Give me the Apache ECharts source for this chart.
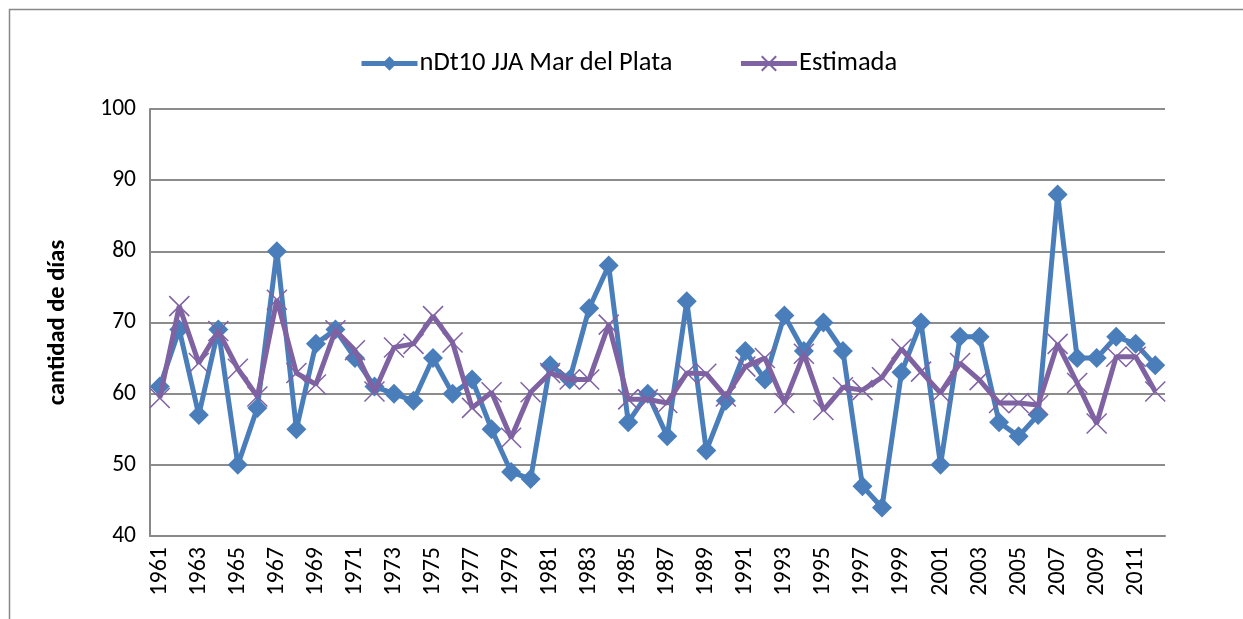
<!DOCTYPE html>
<html>
<head>
<meta charset="utf-8">
<script src="https://cdn.jsdelivr.net/npm/echarts@6/dist/echarts.min.js"></script>
<style>
html,body{margin:0;padding:0;background:#fff;}
#chart{width:1243px;height:619px;}
</style>
</head>
<body>
<div id="chart"></div>
<script>
const years = ['1961','1962','1963','1964','1965','1966','1967','1968','1969','1970','1971','1972','1973','1974','1975','1976','1977','1978','1979','1980','1981','1982','1983','1984','1985','1986','1987','1988','1989','1990','1991','1992','1993','1994','1995','1996','1997','1998','1999','2000','2001','2002','2003','2004','2005','2006','2007','2008','2009','2010','2011','2012'];
const observed = [61,69,57,69,50,58,80,55,67,69,65,61,60,59,65,60,62,55,49,48,64,62,72,78,56,60,54,73,52,59,66,62,71,66,70,66,47,44,63,70,50,68,68,56,54,57,88,65,65,68,67,64];
const estimated = [59.4,72.3,64.3,68.8,63.5,59.6,73.2,62.9,61.3,68.9,66.1,60.3,66.5,67,70.9,67.2,58,60.2,53.8,60.2,62.9,62,62,69.7,59.2,59.2,58.7,62.9,62.8,59.6,63.8,65,58.7,65.6,57.7,60.9,60.5,62.3,66.3,63.1,60.1,64.3,61.9,58.7,58.7,58.4,67,61.5,55.8,65.2,65.2,60.3];
const seriesNames = ['nDt10 JJA Mar del Plata','Estimada'];
const yAxisName = 'cantidad de días';

const FONT = 'Carlito, Lato, "Liberation Sans", sans-serif';
const chart = echarts.init(document.getElementById('chart'), null, {renderer:'canvas'});
chart.setOption({
  animation:false,
  backgroundColor:'#fff',
  graphic:[{type:'rect',shape:{x:9.5,y:9.5,width:1400,height:800},style:{fill:'none',stroke:'#888',lineWidth:1.5},silent:true}],
  legend:{
    top:45, left:354,
    itemWidth:56, itemHeight:18, itemGap:66,
    lineStyle:{width:5},
    textStyle:{fontFamily:FONT,fontSize:26.5,color:'#000',padding:[0,0,0,-3]},
    data:seriesNames
  },
  grid:{left:150,right:78,top:109,bottom:83},
  xAxis:{
    type:'category', data:years, boundaryGap:true,
    axisLine:{lineStyle:{color:'#888',width:2}},
    axisTick:{show:false},
    axisLabel:{rotate:90,interval:1,fontFamily:FONT,fontSize:24,color:'#000',margin:11}
  },
  yAxis:{
    type:'value', min:40, max:100, interval:10,
    name:yAxisName, nameLocation:'middle', nameRotate:90, nameGap:80,
    nameTextStyle:{fontFamily:FONT,fontSize:24.5,fontWeight:'bold',color:'#000'},
    axisLine:{show:true,lineStyle:{color:'#888',width:2}},
    axisTick:{show:false},
    axisLabel:{fontFamily:FONT,fontSize:23.5,color:'#000',margin:14},
    splitLine:{lineStyle:{color:'#8c8c8c',width:2}}
  },
  series:[
    {
      name:seriesNames[0], type:'line', data:observed,
      symbol:'diamond', symbolSize:20, showAllSymbol:true,
      color:'#4a7ebb',
      lineStyle:{color:'#4a7ebb',width:5},
      itemStyle:{color:'#4a7ebb'},
      z:2
    },
    {
      name:seriesNames[1], type:'line', data:estimated,
      symbol:'path://M0,0L10,10M10,0L0,10', symbolSize:20, showAllSymbol:true,
      color:'#7f62a2',
      lineStyle:{color:'#7f62a2',width:5},
      itemStyle:{color:'#7f62a2',borderColor:'#7f62a2',borderWidth:1.5},
      z:3
    }
  ]
});
</script>
</body>
</html>
